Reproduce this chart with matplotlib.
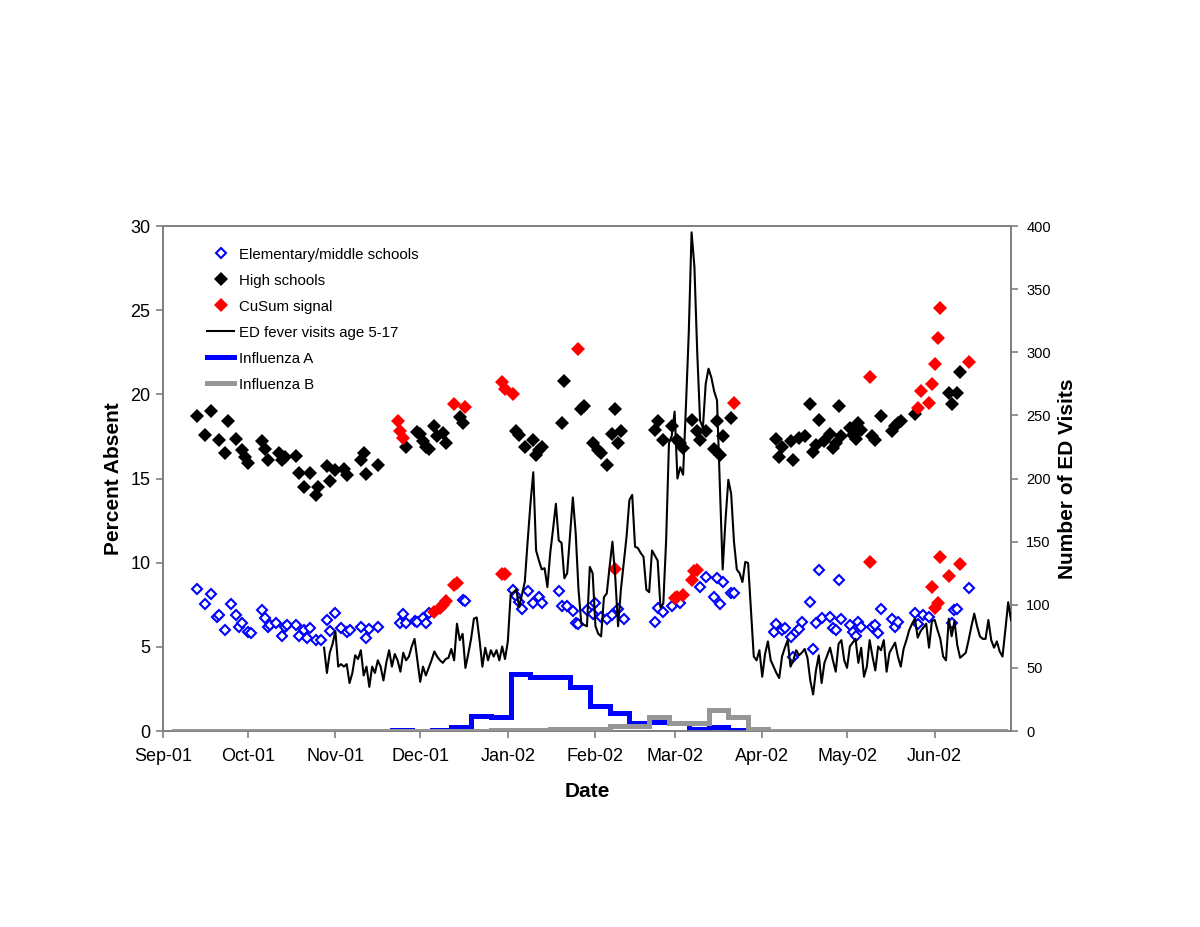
import matplotlib
matplotlib.use("Agg")
import matplotlib.pyplot as plt
import matplotlib.dates as mdates
from matplotlib.lines import Line2D
import pandas as pd

plt.rcParams["font.family"] = ["Liberation Sans", "DejaVu Sans"]

# school absenteeism, percent absent
ELEM_DATES = [
    "2001-09-13", "2001-09-16", "2001-09-18", "2001-09-20", "2001-09-21", "2001-09-23",
    "2001-09-25", "2001-09-27", "2001-09-28", "2001-09-29", "2001-10-01", "2001-10-02",
    "2001-10-06", "2001-10-07", "2001-10-08", "2001-10-09", "2001-10-11", "2001-10-13",
    "2001-10-14", "2001-10-15", "2001-10-18", "2001-10-19", "2001-10-21", "2001-10-22",
    "2001-10-23", "2001-10-25", "2001-10-27", "2001-10-29", "2001-10-30", "2001-11-01",
    "2001-11-03", "2001-11-05", "2001-11-06", "2001-11-10", "2001-11-12", "2001-11-13",
    "2001-11-16", "2001-11-24", "2001-11-25", "2001-11-26", "2001-11-29", "2001-11-30",
    "2001-12-02", "2001-12-03", "2001-12-04", "2001-12-16", "2001-12-17",
    "2002-01-03", "2002-01-04", "2002-01-05", "2002-01-06", "2002-01-08", "2002-01-10",
    "2002-01-12", "2002-01-13", "2002-01-19", "2002-01-20", "2002-01-22", "2002-01-24",
    "2002-01-25", "2002-01-26", "2002-01-29", "2002-01-31", "2002-02-01", "2002-02-03",
    "2002-02-05", "2002-02-07", "2002-02-09", "2002-02-11",
    "2002-02-22", "2002-02-23", "2002-02-25", "2002-02-28", "2002-03-03", "2002-03-10",
    "2002-03-12", "2002-03-15", "2002-03-16", "2002-03-17", "2002-03-18", "2002-03-21",
    "2002-03-22",
    "2002-04-05", "2002-04-06", "2002-04-08", "2002-04-09", "2002-04-11", "2002-04-12",
    "2002-04-13", "2002-04-14", "2002-04-15", "2002-04-18", "2002-04-19", "2002-04-20",
    "2002-04-21", "2002-04-22", "2002-04-25", "2002-04-26", "2002-04-27", "2002-04-28",
    "2002-04-29", "2002-05-02", "2002-05-03", "2002-05-04", "2002-05-05", "2002-05-06",
    "2002-05-10", "2002-05-11", "2002-05-12", "2002-05-13", "2002-05-17", "2002-05-18",
    "2002-05-19", "2002-05-25", "2002-05-26", "2002-05-28", "2002-05-30", "2002-06-07",
    "2002-06-08", "2002-06-09", "2002-06-13",
]
ELEM_PCT = [
    8.44, 7.55, 8.15, 6.8, 6.9, 6.0,
    7.55, 6.9, 6.2, 6.4, 5.9, 5.8,
    7.2, 6.7, 6.2, 6.3, 6.4, 5.65,
    6.2, 6.3, 6.3, 5.65, 6.0, 5.5,
    6.1, 5.4, 5.4, 6.6, 5.95, 7.0,
    6.1, 5.9, 6.0, 6.2, 5.5, 6.05,
    6.2, 6.4, 6.95, 6.4, 6.55, 6.5,
    6.7, 6.4, 7.0, 7.8, 7.7,
    8.38, 8.0, 7.65, 7.25, 8.33, 7.6,
    7.95, 7.6, 8.33, 7.4, 7.4, 7.15,
    6.4, 6.35, 7.2, 6.95, 7.6, 6.8,
    6.65, 6.9, 7.25, 6.65,
    6.45, 7.3, 7.1, 7.45, 7.6, 8.57,
    9.15, 7.96, 9.1, 7.55, 8.85, 8.2,
    8.2,
    5.88, 6.36, 6.0, 6.1, 5.6, 4.4,
    5.9, 6.05, 6.5, 7.65, 4.9, 6.4,
    9.55, 6.7, 6.8, 6.1, 6.0, 8.97,
    6.65, 6.3, 5.9, 5.65, 6.5, 6.2,
    6.2, 6.3, 5.8, 7.25, 6.65, 6.2,
    6.5, 7.0, 6.36, 6.9, 6.8, 6.4,
    7.2, 7.25, 8.5,
]

HIGH_DATES = [
    "2001-09-13", "2001-09-16", "2001-09-18", "2001-09-21", "2001-09-23", "2001-09-24",
    "2001-09-27", "2001-09-29", "2001-09-30", "2001-10-01", "2001-10-06", "2001-10-07",
    "2001-10-08", "2001-10-12", "2001-10-13", "2001-10-14", "2001-10-18", "2001-10-19",
    "2001-10-21", "2001-10-23", "2001-10-25", "2001-10-26", "2001-10-29", "2001-10-30",
    "2001-11-01", "2001-11-04", "2001-11-05", "2001-11-10", "2001-11-11", "2001-11-12",
    "2001-11-16",
    "2001-11-26", "2001-11-30", "2001-12-01", "2001-12-02", "2001-12-03", "2001-12-04",
    "2001-12-06", "2001-12-07", "2001-12-09", "2001-12-10", "2001-12-15", "2001-12-16",
    "2002-01-04", "2002-01-05", "2002-01-07", "2002-01-10", "2002-01-11", "2002-01-12",
    "2002-01-13", "2002-01-20", "2002-01-21", "2002-01-27", "2002-01-28", "2002-01-31",
    "2002-02-02", "2002-02-03", "2002-02-05", "2002-02-07", "2002-02-08", "2002-02-09",
    "2002-02-10",
    "2002-02-22", "2002-02-23", "2002-02-25", "2002-02-28", "2002-03-02", "2002-03-03",
    "2002-03-04", "2002-03-07", "2002-03-09", "2002-03-10", "2002-03-12", "2002-03-15",
    "2002-03-16", "2002-03-17", "2002-03-18", "2002-03-21",
    "2002-04-06", "2002-04-07", "2002-04-08", "2002-04-11", "2002-04-12", "2002-04-14",
    "2002-04-16", "2002-04-18", "2002-04-19", "2002-04-20", "2002-04-21", "2002-04-23",
    "2002-04-25", "2002-04-26", "2002-04-27", "2002-04-28", "2002-04-29", "2002-05-02",
    "2002-05-03", "2002-05-04", "2002-05-05", "2002-05-06", "2002-05-10", "2002-05-11",
    "2002-05-13", "2002-05-17", "2002-05-18", "2002-05-19", "2002-05-20", "2002-05-25",
    "2002-06-06", "2002-06-07", "2002-06-09", "2002-06-10",
]
HIGH_PCT = [
    18.7, 17.6, 19.0, 17.3, 16.5, 18.4,
    17.35, 16.7, 16.3, 15.9, 17.2, 16.75,
    16.1, 16.5, 16.1, 16.3, 16.35, 15.3,
    14.5, 15.3, 14.0, 14.5, 15.75, 14.85,
    15.5, 15.55, 15.2, 16.1, 16.5, 15.25,
    15.8,
    16.9, 17.75, 17.65, 17.2, 16.9, 16.75,
    18.1, 17.5, 17.7, 17.1, 18.65, 18.3,
    17.8, 17.6, 16.9, 17.3, 16.4, 16.7,
    16.9, 18.3, 20.8, 19.1, 19.3, 17.1,
    16.7, 16.5, 15.8, 17.65, 19.1, 17.1,
    17.8,
    17.9, 18.4, 17.3, 18.1, 17.3, 17.1,
    16.8, 18.45, 17.8, 17.3, 17.8, 16.75,
    18.4, 16.4, 17.5, 18.6,
    17.35, 16.3, 16.9, 17.2, 16.1, 17.4,
    17.5, 19.4, 16.6, 17.0, 18.5, 17.2,
    17.65, 16.8, 17.1, 19.3, 17.5, 18.0,
    17.6, 17.35, 18.3, 17.9, 17.5, 17.3,
    18.7, 17.8, 18.1, 18.3, 18.4, 18.85,
    20.1, 19.4, 20.1, 21.3,
]

# days flagged by the CuSum (both school groups)
CUSUM_DATES = [
    "2001-11-23", "2001-11-24", "2001-11-25", "2001-12-06", "2001-12-08", "2001-12-09",
    "2001-12-10", "2001-12-13", "2001-12-13", "2001-12-14", "2001-12-17", "2001-12-30",
    "2001-12-30", "2001-12-31", "2001-12-31", "2002-01-03", "2002-01-26", "2002-02-08",
    "2002-03-01", "2002-03-02", "2002-03-04", "2002-03-07", "2002-03-08", "2002-03-09",
    "2002-03-22", "2002-05-09", "2002-05-09", "2002-05-26", "2002-05-27", "2002-05-30",
    "2002-05-31", "2002-05-31", "2002-06-01", "2002-06-01", "2002-06-02", "2002-06-02",
    "2002-06-03", "2002-06-03", "2002-06-06", "2002-06-10", "2002-06-13",
]
CUSUM_PCT = [
    18.4, 17.8, 17.4, 7.05, 7.3, 7.5,
    7.7, 19.4, 8.65, 8.8, 19.25, 20.75,
    9.35, 20.3, 9.3, 20.0, 22.7, 9.6,
    7.9, 7.95, 8.1, 9.0, 9.5, 9.55,
    19.5, 21.05, 10.04, 19.2, 20.2, 19.5,
    20.6, 8.56, 21.8, 7.3, 23.35, 7.6,
    25.1, 10.34, 9.2, 9.9, 21.9,
]

# daily ED fever visits, age 5-17, from 2001-10-28
ED_START = "2001-10-28"
ED_VISITS = [
    66, 46, 62, 69, 79, 51, 53, 51, 53, 38,
    46, 60, 57, 64, 44, 51, 35, 51, 46, 56,
    51, 40, 54, 64, 51, 61, 56, 47, 62, 56,
    59, 67, 73, 56, 39, 51, 44, 50, 56, 63,
    59, 56, 54, 57, 58, 65, 56, 85, 72, 77,
    50, 61, 73, 89, 90, 72, 51, 66, 56, 64,
    59, 64, 56, 67, 57, 71, 108,
    110, 112, 98, 108, 118, 150, 180, 205, 143, 135,
    128, 129, 114, 141, 160, 180, 151, 149, 121, 125,
    155, 185, 157, 112, 85, 84, 83, 130, 125, 83,
    77, 75, 106, 109, 130, 150, 122, 83, 112, 133,
    154, 183, 187, 146, 145, 141, 138, 112, 110, 143,
    139, 135, 98, 101, 151, 228, 234, 253, 200, 209,
    203, 257, 315, 395, 368, 300, 246, 240, 275, 287,
    280, 269, 262, 194, 128, 167, 199, 188, 150, 128,
    125, 118, 134, 133,
    96, 59, 56, 64, 43, 61, 71, 56, 51, 46,
    42, 59, 66, 72, 51, 56, 64, 60, 62, 65,
    58, 40, 29, 48, 60, 38, 54, 60, 66, 56,
    47, 69, 72, 56, 50, 67, 70, 73, 54, 66,
    43, 51, 72, 59, 48, 67, 64, 72, 47, 62,
    66, 70, 59, 51, 65, 72, 80, 85, 89, 74,
    79, 82, 85, 66, 87, 88, 80, 73, 59, 56,
    89, 75, 87, 68, 58, 60, 62, 72, 83, 93,
    83, 75, 73, 73, 88, 72, 66, 71, 63, 59,
    80, 102, 88,
]

# weekly influenza isolates, weeks starting 2001-09-05
FLU_START = "2001-09-05"
FLU_A = [0, 0, 0, 0, 0, 0, 0, 0, 0, 0, 0, 1, 0, 1, 3, 12, 11, 45, 43, 43, 35, 20,
         14, 6, 7, 6, 2, 3, 1, 0, 0, 0, 0, 0, 0, 0, 0, 0, 0, 0, 0, 0, 0]
FLU_B = [0, 0, 0, 0, 0, 0, 0, 0, 0, 0, 0, 0, 0, 0, 0, 0, 1, 1, 1, 2, 2, 2,
         4, 4, 11, 6, 6, 17, 11, 2, 0, 0, 0, 0, 0, 0, 0, 0, 0, 0, 0, 0, 0]

AXIS_GREY = "#808080"
BLUE = "#0000ff"
RED = "#ff0000"
GREY = "#969696"

ELEM_STYLE = dict(ls="none", marker="D", ms=4.8, mfc="white", mec=BLUE, mew=1.5)
HIGH_STYLE = dict(ls="none", marker="D", ms=6.8, mfc="black", mec="black", mew=0)
CUSUM_STYLE = dict(ls="none", marker="D", ms=6.8, mfc=RED, mec=RED, mew=0)

elem_d = pd.to_datetime(ELEM_DATES)
high_d = pd.to_datetime(HIGH_DATES)
cusum_d = pd.to_datetime(CUSUM_DATES)
ed_d = pd.date_range(ED_START, periods=len(ED_VISITS), freq="D")
flu_d = pd.date_range(FLU_START, periods=len(FLU_A), freq="7D")

fig = plt.figure(figsize=(12, 9.27), dpi=100)
ax = fig.add_axes([0.1358, 0.2114, 0.7067, 0.5448])
ax2 = ax.twinx()

ax.plot(elem_d, ELEM_PCT, zorder=3, **ELEM_STYLE)
ax.plot(high_d, HIGH_PCT, zorder=3, **HIGH_STYLE)
ax.plot(cusum_d, CUSUM_PCT, zorder=4, **CUSUM_STYLE)

ax2.plot(flu_d, FLU_A, drawstyle="steps-post", color=BLUE, lw=3.6, solid_joinstyle="miter", zorder=2)
ax2.plot(flu_d, FLU_B, drawstyle="steps-post", color=GREY, lw=3.6, solid_joinstyle="miter", zorder=3)
ax2.plot(ed_d, ED_VISITS, color="black", lw=1.5, zorder=4)

ax.set_xlim(pd.Timestamp("2001-09-01"), pd.Timestamp("2002-06-28"))
ax.set_ylim(0, 30)
ax2.set_ylim(0, 400)
ax.set_yticks(range(0, 31, 5))
ax2.set_yticks(range(0, 401, 50))
ax.xaxis.set_major_locator(mdates.MonthLocator())
ax.xaxis.set_major_formatter(mdates.DateFormatter("%b-%y"))

for a in (ax, ax2):
    for sp in a.spines.values():
        sp.set_color(AXIS_GREY)
        sp.set_linewidth(1.3)
ax.tick_params(axis="both", direction="out", length=5, width=1.2, color=AXIS_GREY,
               labelsize=13)
ax.tick_params(axis="x", pad=7)
ax.tick_params(axis="y", pad=4)
ax2.tick_params(axis="y", direction="out", length=5, width=1.2, color=AXIS_GREY,
                labelsize=10.5, pad=6)

ax.set_ylabel("Percent Absent", fontsize=15, fontweight="bold")
ax.yaxis.set_label_coords(-0.047, 0.5)
ax2.set_ylabel("Number of ED Visits", fontsize=15, fontweight="bold")
ax2.yaxis.set_label_coords(1.055, 0.5)
ax.set_xlabel("Date", fontsize=15, fontweight="bold")
ax.xaxis.set_label_coords(0.5, -0.101)

handles = [
    Line2D([], [], **ELEM_STYLE),
    Line2D([], [], **HIGH_STYLE),
    Line2D([], [], **CUSUM_STYLE),
    Line2D([], [], color="black", lw=1.5),
    Line2D([], [], color=BLUE, lw=3.6),
    Line2D([], [], color=GREY, lw=3.6),
]
labels = ["Elementary/middle schools", "High schools", "CuSum signal",
          "ED fever visits age 5-17", "Influenza A", "Influenza B"]
ax2.legend(handles, labels, loc="upper left", bbox_to_anchor=(0.045, 0.969),
           frameon=False, fontsize=10.8, handlelength=1.8, handletextpad=0.3,
           labelspacing=0.8, borderaxespad=0, numpoints=1)

fig.savefig("out.png", dpi=100)
